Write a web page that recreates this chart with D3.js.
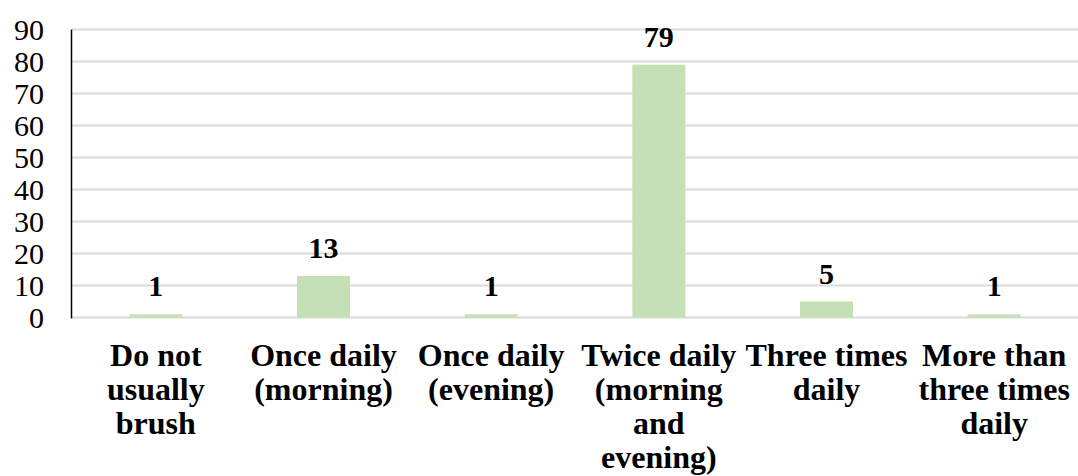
<!DOCTYPE html>
<meta charset="utf-8">
<script src="https://d3js.org/d3.v7.min.js"></script>
<div id="chart"></div>
<script>

// data
var categories = ["Do not usually brush", "Once daily (morning)", "Once daily (evening)",
                  "Twice daily (morning and evening)", "Three times daily", "More than three times daily"]
var labelLines = [["Do not", "usually", "brush"], ["Once daily", "(morning)"], ["Once daily", "(evening)"],
                  ["Twice daily", "(morning", "and", "evening)"], ["Three times", "daily"], ["More than", "three times", "daily"]]
var values = [1, 13, 1, 79, 5, 1]
var yTicks = [0, 10, 20, 30, 40, 50, 60, 70, 80, 90]

var width = 1078, height = 476
var margin = {top: 29.5, right: 0, bottom: 158.5, left: 72}

var svg = d3.select("#chart").append("svg")
    .attr("width", width)
    .attr("height", height)
    .style("position", "absolute")
    .style("left", "0px")
    .style("top", "0px")

var x = d3.scaleBand()
    .domain(categories)
    .range([margin.left, width - margin.right])
    .paddingInner(0.684)
    .paddingOuter(0.342)

var y = d3.scaleLinear()
    .domain([0, 90])
    .range([height - margin.bottom, margin.top])

// gridlines
svg.append("g")
  .selectAll("line")
  .data(yTicks)
  .join("line")
    .attr("x1", margin.left)
    .attr("x2", width - margin.right)
    .attr("y1", d => y(d))
    .attr("y2", d => y(d))
    .attr("stroke", "#d9d9d9")
    .attr("stroke-width", 2)

// bars
svg.append("g")
  .selectAll("rect")
  .data(values)
  .join("rect")
    .attr("x", (d, i) => x(categories[i]))
    .attr("width", x.bandwidth())
    .attr("y", d => y(d))
    .attr("height", d => y(0) - y(d))
    .attr("fill", "#c5e0b4")

// y axis line
svg.append("line")
    .attr("x1", margin.left - 0.5)
    .attr("x2", margin.left - 0.5)
    .attr("y1", y(90))
    .attr("y2", y(0) + 1)
    .attr("stroke", "#000")
    .attr("stroke-width", 1.5)

// y tick labels
svg.append("g")
  .selectAll("text")
  .data(yTicks)
  .join("text")
    .attr("x", 44)
    .attr("y", d => y(d) + 10)
    .attr("text-anchor", "end")
    .attr("font-size", 30)
    .style("font-family", d => "'Liberation Serif'")
    .text(d => d)

// value labels
svg.append("g")
  .selectAll("text")
  .data(values)
  .join("text")
    .attr("x", (d, i) => x(categories[i]) + x.bandwidth() / 2)
    .attr("y", d => y(d) - 18)
    .attr("text-anchor", "middle")
    .attr("font-size", 30)
    .attr("font-weight", "bold")
    .style("font-family", d => "'Liberation Serif'")
    .text(d => d)

// category labels, one text per line
labelLines.forEach(function(lines, i) {
  svg.append("g")
    .selectAll("text")
    .data(lines)
    .join("text")
      .attr("x", x(categories[i]) + x.bandwidth() / 2)
      .attr("y", (d, j) => 366 + j * 34)
      .attr("text-anchor", "middle")
      .attr("font-size", 32)
      .attr("font-weight", "bold")
      .style("font-family", d => "'Liberation Serif'")
      .text(d => d)
})

</script>
